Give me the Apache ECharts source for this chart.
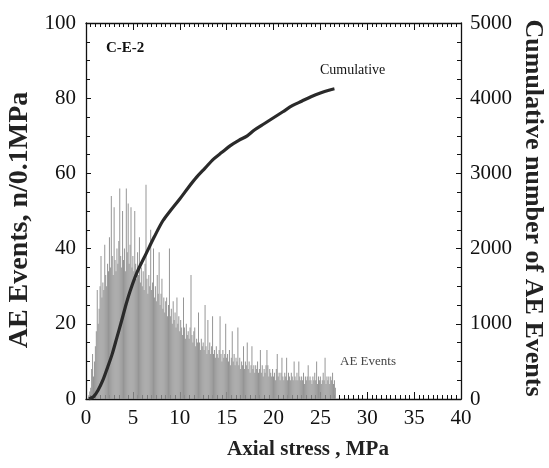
<!DOCTYPE html>
<html>
<head>
<meta charset="utf-8">
<script src="https://cdn.jsdelivr.net/npm/echarts@6/dist/echarts.min.js"></script>
<style>html,body{margin:0;padding:0;background:#fff}#c{width:549px;height:468px}</style>
</head>
<body>
<div id="c"></div>
<script>
// AE events per 0.1 MPa bin, bins start at 0.3 MPa
const binStart = 0.3;
const binWidth = 0.1;
const aeEvents = [
  1,2,3,8,12,6,10,
  14,18,29,20,24,30,38,27,31,29,
  41,33,30,36,34,43,35,54,38,33,
  51,37,34,40,36,42,56,38,35,50,
  37,40,34,56,39,52,36,41,51,35,
  38,34,50,36,32,39,33,43,31,35,
  30,34,29,36,57,32,28,33,30,45,
  29,31,40,27,30,26,33,28,39,25,
  28,32,24,27,23,26,27,22,25,40,
  22,24,20,26,21,23,19,27,20,22,
  18,21,19,17,27,19,16,20,17,18,
  16,19,33,17,15,18,19,14,16,15,
  23,15,13,16,14,15,13,25,14,12,
  21,13,15,12,14,22,12,13,11,14,
  12,11,13,22,12,10,13,11,12,20,
  11,12,10,13,9,11,18,10,12,9,
  11,10,19,9,11,8,10,9,14,8,
  10,9,15,8,10,7,9,14,8,9,
  7,9,8,10,7,8,13,7,9,6,
  8,7,9,13,9,6,8,7,6,8,
  6,7,5,8,12,6,7,5,7,11,
  6,5,7,6,11,5,7,6,5,7,
  6,5,10,6,5,7,5,10,6,5,
  6,5,7,4,6,5,6,9,5,6,
  5,4,6,5,7,5,10,4,6,5,
  6,4,5,7,5,11,4,6,5,6,
  4,6,5,7,4,5,3
];
// Cumulative number of AE events
const cumStress = [0.3,0.8,1.3,1.8,2.3,2.8,3.3,3.8,4.3,4.8,5.5,6.4,7.3,8.2,9.1,10.0,10.9,11.8,12.7,13.6,14.5,15.4,16.3,17.2,18.0,19.0,20.0,21.0,22.0,23.0,24.0,25.0,26.0,26.5];
const cumCount  = [0,30,120,250,420,600,820,1040,1270,1470,1700,1930,2160,2370,2520,2660,2810,2950,3070,3190,3280,3370,3440,3500,3580,3660,3740,3820,3900,3960,4020,4070,4110,4125];
const xTicks = [0,5,10,15,20,25,30,35,40];
const leftTicks = [0,20,40,60,80,100];
const rightTicks = [0,1000,2000,3000,4000,5000];

const barData = aeEvents.map((v, i) => [Math.round((binStart + i * binWidth) * 10) / 10, v]);
const lineData = cumStress.map((x, i) => [x, cumCount[i]]);

const FONT = 'Liberation Serif';
const chart = echarts.init(document.getElementById('c'), null, {renderer: 'canvas'});
const axisLine = {show: true, onZero: false, lineStyle: {color: '#111', width: 1.3}};
const tick = (len) => ({show: true, inside: true, length: len, lineStyle: {color: '#111', width: 1}});
const minor = (n) => ({show: true, splitNumber: n, length: 4, lineStyle: {color: '#111', width: 1}});
chart.setOption({
  animation: false,
  backgroundColor: '#fff',
  grid: {left: 86, right: 88, top: 23, bottom: 69, containLabel: false},
  xAxis: [{
    type: 'value', position: 'bottom', min: xTicks[0], max: xTicks[xTicks.length - 1], interval: 5,
    axisLine: axisLine, axisTick: tick(7), minorTick: minor(10),
    axisLabel: {fontFamily: FONT, fontSize: 21, color: '#111', margin: 9},
    splitLine: {show: false}, minorSplitLine: {show: false}
  }, {
    type: 'value', position: 'top', min: xTicks[0], max: xTicks[xTicks.length - 1], interval: 5,
    axisLine: axisLine, axisTick: tick(7), minorTick: minor(10),
    axisLabel: {show: false}, splitLine: {show: false}
  }],
  yAxis: [{
    type: 'value', position: 'left', min: leftTicks[0], max: leftTicks[leftTicks.length - 1], interval: 20,
    axisLine: axisLine, axisTick: tick(5), minorTick: minor(4),
    axisLabel: {fontFamily: FONT, fontSize: 21, color: '#111', margin: 10},
    splitLine: {show: false}
  }, {
    type: 'value', position: 'right', min: rightTicks[0], max: rightTicks[rightTicks.length - 1], interval: 1000,
    axisLine: axisLine, axisTick: tick(5), minorTick: minor(4),
    axisLabel: {fontFamily: FONT, fontSize: 21, color: '#111', margin: 9, formatter: (v) => String(v)},
    splitLine: {show: false}
  }],
  series: [{
    name: 'AE Events', type: 'bar', xAxisIndex: 0, yAxisIndex: 0,
    data: barData, barWidth: 1, itemStyle: {color: '#969696'}, silent: true
  }, {
    name: 'Cumulative', type: 'line', xAxisIndex: 0, yAxisIndex: 1,
    data: lineData, smooth: 0.3, showSymbol: false,
    lineStyle: {color: '#2a2a2a', width: 3.2}, z: 5
  }, {
    name: 'top', type: 'line', xAxisIndex: 1, yAxisIndex: 0, data: [], silent: true
  }],
  graphic: [
    {type: 'text', x: 20, y: 220, rotation: Math.PI / 2,
     style: {text: 'AE Events, n/0.1MPa', font: 'bold 28px "Liberation Serif"', fill: '#222', textAlign: 'center', textVerticalAlign: 'middle'}},
    {type: 'text', x: 533, y: 208, rotation: -Math.PI / 2,
     style: {text: 'Cumulative number of AE Events', font: 'bold 26px "Liberation Serif"', fill: '#222', textAlign: 'center', textVerticalAlign: 'middle'}},
    {type: 'text', x: 308, y: 450,
     style: {text: 'Axial stress , MPa', font: 'bold 21px "Liberation Serif"', fill: '#222', textAlign: 'center', textVerticalAlign: 'middle'}},
    {type: 'text', x: 106, y: 48,
     style: {text: 'C-E-2', font: 'bold 15px "Liberation Serif"', fill: '#111', textAlign: 'left', textVerticalAlign: 'middle'}},
    {type: 'text', x: 320, y: 70,
     style: {text: 'Cumulative', font: '14px "Liberation Serif"', fill: '#111', textAlign: 'left', textVerticalAlign: 'middle'}},
    {type: 'text', x: 340, y: 362,
     style: {text: 'AE Events', font: '13px "Liberation Serif"', fill: '#444', textAlign: 'left', textVerticalAlign: 'middle'}}
  ]
});
</script>
</body>
</html>
